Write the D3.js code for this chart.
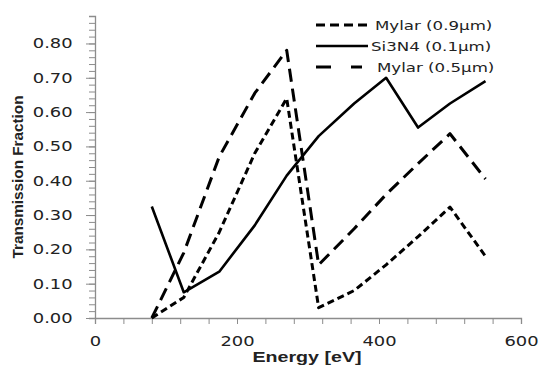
<!DOCTYPE html>
<html>
<head>
<meta charset="utf-8">
<script src="https://cdn.jsdelivr.net/npm/d3@7"></script>
<style>
  body { margin: 0; background: #fff; }
  svg { display: block; }
</style>
</head>
<body>
<svg></svg>
<script>
const [w, h] = [539, 367];
const m = {left: 95, right: 18, top: 16, bottom: 49};

// energies (eV)
const energy = [80, 125, 175, 225, 270, 315, 365, 410, 455, 500, 550];
// transmission fractions
const mylar09 = [0.00, 0.06, 0.25, 0.48, 0.64, 0.03, 0.08, 0.155, 0.237, 0.323, 0.18];
const si3n4   = [0.325, 0.075, 0.135, 0.27, 0.415, 0.53, 0.625, 0.70, 0.555, 0.625, 0.69];
const mylar05 = [0.00, 0.19, 0.47, 0.655, 0.78, 0.155, 0.26, 0.36, 0.45, 0.537, 0.405];

const seriesNames = ['Mylar (0.9\u00b5m)', 'Si3N4 (0.1\u00b5m)', 'Mylar (0.5\u00b5m)'];
const seriesDash = ['7,4', null, '13,7'];
const legendDash = ['9,5', null, '15,20'];

const xTicks = [0, 200, 400, 600];
const yTicks = [0, 0.1, 0.2, 0.3, 0.4, 0.5, 0.6, 0.7, 0.8];

const svg = d3.select('svg').attr('width', w).attr('height', h);

const xScale = d3.scaleLinear().domain([0, 600]).range([m.left, w - m.right]);
const yScale = d3.scaleLinear().domain([0, 0.88]).range([h - m.bottom, m.top]);

const axisColor = '#8c8c8c';
const labelFont = "'DejaVu Sans', Verdana, sans-serif";
const stretch = 'scale(1.28,1)'; // the original text is drawn wide

// minor ticks
svg.append('g')
    .attr('transform', `translate(0, ${yScale(0)})`)
    .call(d3.axisBottom(xScale).tickValues(d3.range(0, 601, 40)).tickSize(6).tickFormat(''))
    .call(g => g.selectAll('line').attr('stroke', axisColor))
    .call(g => g.select('.domain').attr('stroke', axisColor).attr('stroke-width', 1.3));

svg.append('g')
    .attr('transform', `translate(${m.left}, 0)`)
    .call(d3.axisLeft(yScale).tickValues(d3.range(0, 0.881, 0.02)).tickSize(6).tickFormat(''))
    .call(g => g.selectAll('line').attr('stroke', axisColor))
    .call(g => g.select('.domain').attr('stroke', axisColor).attr('stroke-width', 1.3));

// major ticks + labels
svg.append('g')
    .attr('transform', `translate(0, ${yScale(0)})`)
    .call(d3.axisBottom(xScale).tickValues(xTicks).tickSize(6).tickPadding(12))
    .call(g => g.select('.domain').remove())
    .call(g => g.selectAll('line').attr('stroke', axisColor))
    .call(g => g.selectAll('text').attr('fill', '#222').attr('transform', stretch)
        .style('font-family', labelFont).style('font-size', '14px'));

svg.append('g')
    .attr('transform', `translate(${m.left}, 0)`)
    .call(d3.axisLeft(yScale).tickValues(yTicks).tickSize(9).tickPadding(8.5).tickFormat(d3.format('.2f')))
    .call(g => g.select('.domain').remove())
    .call(g => g.selectAll('line').attr('stroke', axisColor))
    .call(g => g.selectAll('text').attr('fill', '#222').attr('transform', stretch)
        .style('font-family', labelFont).style('font-size', '14px'));

// lines
const seriesData = [mylar09, si3n4, mylar05];
const line = d3.line()
    .x((d, i) => xScale(energy[i]))
    .y(d => yScale(d));

seriesData.forEach((vals, k) => {
    svg.append('path')
        .datum(vals)
        .attr('d', line)
        .attr('fill', 'none')
        .attr('stroke', '#000')
        .attr('stroke-width', k === 1 ? 2.6 : 3)
        .attr('stroke-dasharray', seriesDash[k])
        .attr('stroke-linejoin', 'round');
});

// legend
const legend = svg.append('g');
const legRows = [25, 46, 67];
const legTextX = [375, 371, 377];
const legEnd = [368, 368, 362];
seriesNames.forEach((name, k) => {
    legend.append('line')
        .attr('x1', 316).attr('x2', legEnd[k])
        .attr('y1', legRows[k]).attr('y2', legRows[k])
        .attr('stroke', '#000')
        .attr('stroke-width', k === 1 ? 2.6 : 3)
        .attr('stroke-dasharray', legendDash[k]);
    legend.append('text')
        .attr('x', legTextX[k] / 1.28)
        .attr('y', legRows[k] + 5)
        .attr('transform', stretch)
        .text(name)
        .style('font-family', labelFont)
        .style('font-size', '13px')
        .attr('fill', '#222');
});

// axis titles
svg.append('text')
    .attr('x', 307)
    .attr('y', 362)
    .attr('textLength', 109)
    .attr('lengthAdjust', 'spacingAndGlyphs')
    .text('Energy [eV]')
    .style('text-anchor', 'middle')
    .style('font-family', "'Liberation Sans', Arial, sans-serif")
    .style('font-weight', 'bold')
    .style('font-size', '15px')
    .attr('fill', '#222');

svg.append('text')
    .attr('x', -177)
    .attr('y', 23)
    .attr('textLength', 163)
    .attr('lengthAdjust', 'spacingAndGlyphs')
    .text('Transmission Fraction')
    .style('text-anchor', 'middle')
    .style('font-family', "'Liberation Sans Narrow', 'Liberation Sans', Arial, sans-serif")
    .style('font-weight', 'bold')
    .style('font-size', '15px')
    .attr('fill', '#222')
    .attr('transform', 'rotate(-90)');
</script>
</body>
</html>
